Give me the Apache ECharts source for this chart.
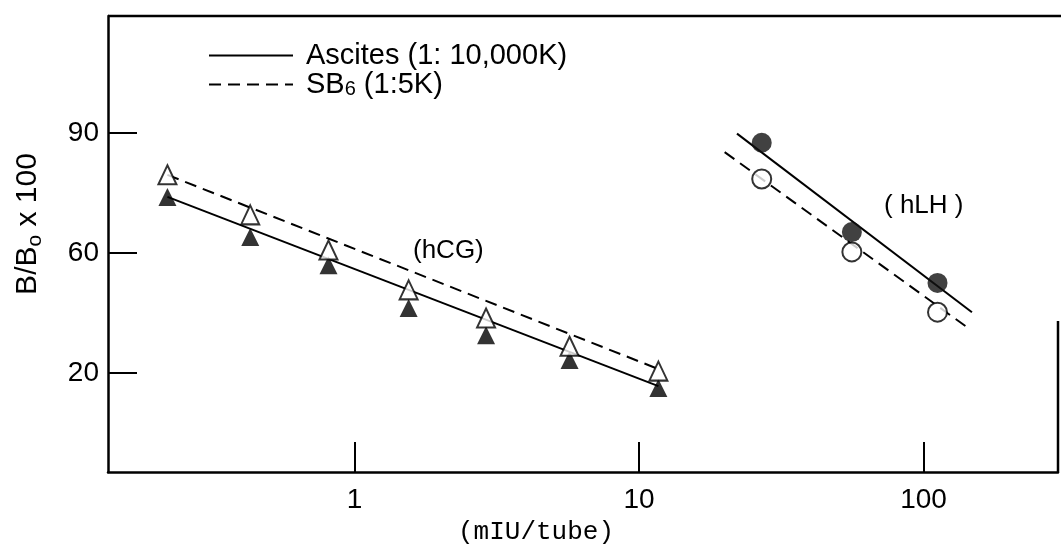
<!DOCTYPE html>
<html>
<head>
<meta charset="utf-8">
<script src="https://cdn.jsdelivr.net/npm/echarts@6/dist/echarts.min.js"></script>
<style>
  html, body { margin: 0; padding: 0; background: #fff; }
  #chart { width: 1061px; height: 554px; }
</style>
</head>
<body>
<div id="chart"></div>
<script>
// doses (mIU/tube)
var hcgDose = [0.22, 0.43, 0.81, 1.55, 2.9, 5.7, 11.7];
var hlhDose = [27, 56, 112];

// B/Bo x 100
var ascitesHcg = [77.6, 65.6, 55.6, 39.8, 30.6, 23.3, 16.7];
var sb6Hcg = [82.8, 72.6, 61.1, 46.4, 36.3, 27.2, 20.5];
var ascitesHlh = [88.6, 67.2, 49.0];
var sb6Hlh = [81.9, 60.4, 38.3];

// end points of the drawn fit lines
var ascitesHcgFitX = [0.22, 11.7];
var ascitesHcgFitY = [77.6, 17.1];
var sb6HcgFitX = [0.22, 11.7];
var sb6HcgFitY = [82.8, 21.0];
var ascitesHlhFitX = [22.1, 148];
var ascitesHlhFitY = [89.9, 38.3];
var sb6HlhFitX = [20.0, 142];
var sb6HlhFitY = [87.1, 33.2];

var xTicks = [1, 10, 100];
var yTicks = [20, 60, 90];

var ascitesName = 'Ascites (1: 10,000K)';
var sb6Name = 'SB6 (1:5K)';

// y axis is a logit scale
function logit(p) { return Math.log(p / (100 - p)); }
function toPct(v) { return 100 / (1 + Math.exp(-v)); }

function pairs(xs, ys) {
    return xs.map(function (x, i) { return [x, logit(ys[i])]; });
}

var font = 'Liberation Sans, Arial, sans-serif';
var mono = 'Liberation Mono, DejaVu Sans Mono, monospace';
var dash = [12, 7];

var chartDom = document.getElementById('chart');
var chart = echarts.init(chartDom);

var option = {
    animation: false,
    backgroundColor: '#fff',
    color: ['#000'],
    textStyle: { fontFamily: font, color: '#000' },
    grid: { left: 108, right: 3, top: 16, bottom: 82, outerBoundsMode: 'none', containLabel: false },
    legend: {
        orient: 'vertical',
        left: 203,
        top: 36,
        itemWidth: 84,
        itemHeight: 14,
        itemGap: 0,
        selectedMode: false,
        data: [ascitesName, sb6Name],
        itemStyle: { opacity: 0 },
        formatter: function (name) {
            if (name === sb6Name) return '{a|SB}{b|6}{a| (1:5K)}';
            return '{a|' + name + '}';
        },
        textStyle: {
            padding: [0, 0, 0, 8],
            rich: {
                a: { fontSize: 29, lineHeight: 30, fontFamily: font, color: '#000', verticalAlign: 'middle' },
                b: { fontSize: 20, lineHeight: 30, fontFamily: font, color: '#000', verticalAlign: 'bottom' }
            }
        }
    },
    xAxis: {
        type: 'log',
        logBase: 10,
        min: 0.136,
        max: 297,
        axisLine: { show: true, onZero: false, lineStyle: { color: '#000', width: 2.5 } },
        axisTick: { show: true, inside: true, length: 30, customValues: xTicks, lineStyle: { color: '#000', width: 2 } },
        axisLabel: { customValues: xTicks, fontSize: 28, color: '#000', margin: 14, fontFamily: font },
        splitLine: { show: false },
        minorTick: { show: false },
        name: '(mIU/tube)',
        nameLocation: 'middle',
        nameGap: 46,
        nameTextStyle: { fontSize: 26, color: '#000', fontFamily: mono, padding: [0, 94, 0, 0] }
    },
    yAxis: {
        type: 'value',
        min: -2.86,
        max: 3.94,
        axisLine: { show: true, lineStyle: { color: '#000', width: 2.5 } },
        axisTick: { show: true, inside: true, length: 29, customValues: yTicks.map(logit), lineStyle: { color: '#000', width: 2 } },
        axisLabel: {
            customValues: yTicks.map(logit),
            fontSize: 28,
            color: '#000',
            margin: 9,
            fontFamily: font,
            formatter: function (v) { return Math.round(toPct(v)); }
        },
        splitLine: { show: false },
        name: '{n|B/B}{s|o}{n| x 100}',
        nameLocation: 'middle',
        nameGap: 62,
        nameTextStyle: {
            padding: [0, 0, 0, 40],
            rich: {
                n: { fontSize: 30, lineHeight: 36, fontFamily: font, color: '#000', verticalAlign: 'middle' },
                s: { fontSize: 21, lineHeight: 36, fontFamily: font, color: '#000', verticalAlign: 'bottom' }
            }
        }
    },
    graphic: [
        { type: 'line', shape: { x1: 108, y1: 16, x2: 1061, y2: 16 }, style: { stroke: '#000', lineWidth: 2.5 } },
        { type: 'line', shape: { x1: 1058, y1: 321, x2: 1058, y2: 472 }, style: { stroke: '#000', lineWidth: 2.5 } },
        { type: 'text', left: 413, top: 238, style: { text: '(hCG)', fontSize: 26, fontFamily: font, fill: '#000' } },
        { type: 'text', left: 884, top: 193, style: { text: '( hLH )', fontSize: 26, fontFamily: font, fill: '#000' } }
    ],
    series: [
        {
            name: ascitesName, type: 'line', data: pairs(ascitesHcgFitX, ascitesHcgFitY),
            symbol: 'none', z: 2, itemStyle: { color: '#000' }, lineStyle: { color: '#000', width: 2 }
        },
        {
            name: sb6Name, type: 'line', data: pairs(sb6HcgFitX, sb6HcgFitY),
            symbol: 'none', z: 2, itemStyle: { color: '#000' }, lineStyle: { color: '#000', width: 2, type: dash }
        },
        {
            name: ascitesName, type: 'line', data: pairs(ascitesHlhFitX, ascitesHlhFitY),
            symbol: 'none', z: 2, itemStyle: { color: '#000' }, lineStyle: { color: '#000', width: 2 }
        },
        {
            name: sb6Name, type: 'line', data: pairs(sb6HlhFitX, sb6HlhFitY),
            symbol: 'none', z: 2, itemStyle: { color: '#000' }, lineStyle: { color: '#000', width: 2, type: dash }
        },
        {
            name: 'Ascites hCG', type: 'scatter', data: pairs(hcgDose, ascitesHcg),
            symbol: 'triangle', symbolSize: [18, 18], z: 3,
            itemStyle: { color: '#000' }
        },
        {
            name: 'SB6 hCG', type: 'scatter', data: pairs(hcgDose, sb6Hcg),
            symbol: 'triangle', symbolSize: [18, 19], z: 4,
            itemStyle: { color: '#fff', borderColor: '#000', borderWidth: 2 }
        },
        {
            name: 'Ascites hLH', type: 'scatter', data: pairs(hlhDose, ascitesHlh),
            symbol: 'circle', symbolSize: 20, z: 3,
            itemStyle: { color: '#111' }
        },
        {
            name: 'SB6 hLH', type: 'scatter', data: pairs(hlhDose, sb6Hlh),
            symbol: 'circle', symbolSize: 19, z: 4,
            itemStyle: { color: '#fff', borderColor: '#000', borderWidth: 2 }
        }
    ]
};

chart.setOption(option);
</script>
</body>
</html>
